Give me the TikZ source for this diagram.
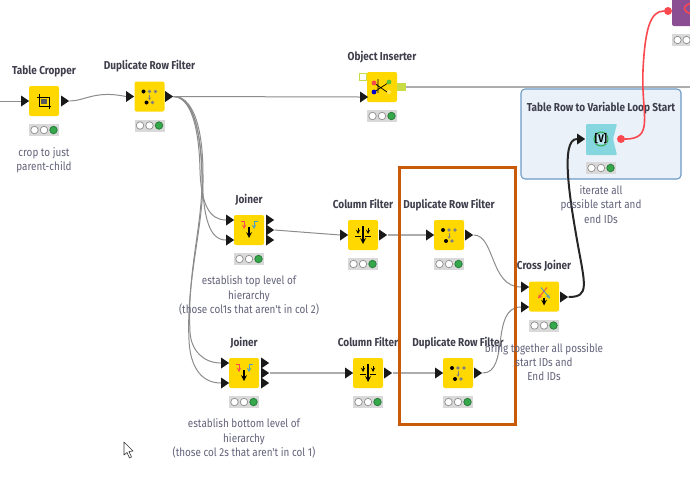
\documentclass[tikz,border=0pt]{standalone}
\usepackage{fontspec}
\setmainfont{Fira Sans}
\newfontfamily\titlefont[FakeStretch=0.87]{Fira Sans}
\newfontfamily\notefont[FakeStretch=0.86]{Fira Sans}
\usetikzlibrary{calc, positioning, shapes.geometric}

\definecolor{knyellow}{HTML}{FFD800}
\definecolor{kngreen}{HTML}{34A84A}
\definecolor{knred}{HTML}{F9484E}
\definecolor{knorange}{HTML}{C85A08}
\definecolor{knlime}{HTML}{C8DC46}
\definecolor{kntitle}{HTML}{3E3E4C}
\definecolor{knnote}{HTML}{62627A}
\definecolor{knbox}{HTML}{EAF1F8}
\definecolor{knboxline}{HTML}{6C9BC8}
\definecolor{knteal}{HTML}{85D6DF}
\definecolor{knpurple}{HTML}{8B4E92}
\definecolor{knblue}{HTML}{4F9BC8}

\tikzset{
	icon/.style = {fill = knyellow, rounded corners = 2pt, minimum size = 30pt, inner sep = 0},
	nodetitle/.style = {font = \titlefont\bfseries\fontsize{11.5}{13}\selectfont, text = kntitle, text height = 8pt, text depth = 2pt, inner sep = 0},
	note/.style = {font = \notefont\fontsize{11.5}{14.4}\selectfont, text = knnote, align = center, inner sep = 0},
	traffic/.style = {fill = black!15, minimum width = 30pt, minimum height = 12pt, inner sep = 0},
	lamp/.style = {circle, draw = black!45, fill = white, line width = .7pt, minimum size = 7.5pt, inner sep = 0},
	port/.style = {isosceles triangle, isosceles triangle stretches, fill = black!90, minimum width = 11pt, minimum height = 8pt, inner sep = 0},
	wire/.style = {draw = black!45, line width = 1pt},
	flatwire/.style = {draw = black!32, line width = 1.3pt},
	glyph/.style = {-stealth, line width = 1pt}
}

\newcommand{\knimenode}[4]{
	\node [icon] (#1) at (#2,#3) {};
	\node [nodetitle] (#1title) at (#2,#3 - 30) {#4};
	\node [traffic] (#1status) at (#2,#3 + 29) {};
	\node [lamp] at ($(#1status) + (-9.5,0)$) {};
	\node [lamp] at (#1status) {};
	\node [lamp, fill = kngreen, draw = kngreen!70!black] at ($(#1status) + (9.5,0)$) {};
}

\newcommand{\dupglyph}[2]{
	\begin{scope}[shift = {(#1,#2)}]
		\fill (-6,-5) circle (2pt) (-3,6) circle (2pt);
		\fill [black!50] (0,-5) circle (1.8pt) (6,-5) circle (1.8pt) (3,6) circle (1.8pt);
		\draw [black!50, -stealth] (0,-2) -- (0,4);
	\end{scope}
}

\newcommand{\colglyph}[2]{
	\begin{scope}[shift = {(#1,#2)}]
		\draw [-stealth, line width = 1.6pt] (0,-9) -- (0,9);
		\foreach \dx in {-5,5} {
			\draw [-stealth, line width = .9pt] (\dx,-7) -- (\dx,-1);
			\draw [line width = .9pt] (\dx - 3,1) -- (\dx + 3,1);
		}
	\end{scope}
}

\newcommand{\joinglyph}[2]{
	\begin{scope}[shift = {(#1,#2)}]
		\draw [knred, -stealth, line width = .9pt] (-8,-9) -- (-5,-9) -- (-5,-1);
		\draw [knblue, -stealth, line width = .9pt] (9,-9) -- (5,-9) -- (5,-1);
		\draw [-stealth, line width = 1.5pt] (0,-3) -- (0,8);
	\end{scope}
}

\begin{document}
\begin{tikzpicture}[x = 1pt, y = -1pt]
	\useasboundingbox (0,0) rectangle (690,496);
	\clip (0,0) rectangle (690,496);

	% loop start box
	\filldraw [draw = knboxline, fill = knbox, line width = 1.1pt, rounded corners = 4pt] (521,89) rectangle (681,179);

	% nodes
	\knimenode{crop}{44}{101}{Table Cropper}
	\knimenode{dupA}{149.5}{96.5}{Duplicate Row Filter}
	\knimenode{joinA}{249}{230}{Joiner}
	\knimenode{joinB}{244}{373}{Joiner}
	\knimenode{colA}{363}{235}{Column Filter}
	\knimenode{colB}{368}{373}{Column Filter}
	\knimenode{dupB}{449}{235}{Duplicate Row Filter}
	\knimenode{dupC}{458}{373}{Duplicate Row Filter}
	\knimenode{cross}{544}{296.5}{Cross Joiner}
	\knimenode{objins}{382}{87}{Object Inserter}

	% loop start has its own shape
	\fill [knteal, rounded corners = 1pt] (586,124) -- (617,124) -- (613,139) -- (617,155) -- (586,155) -- cycle;
	\node [nodetitle] (looptitle) at (601,108.5) {Table Row to Variable Loop Start};
	\node [traffic] (loopstatus) at (601,168) {};
	\node [lamp] at (591.5,168) {};
	\node [lamp] at (601,168) {};
	\node [lamp, fill = kngreen, draw = kngreen!70!black] at (610.5,168) {};
	\draw [kngreen, line width = 1pt] (601,139) circle (7pt);
	\node [font = \titlefont\bfseries\fontsize{11}{11}\selectfont, inner sep = 0, fill = knteal!60!white] (loopglyph) at (601,139) {[V]};

	% top right node, cut by the edge
	\fill [knpurple, rounded corners = 2pt] (672,-5) rectangle (700,26);
	\draw [knred, line width = 1.5pt] (692,3) .. controls (682,5) and (682,12) .. (692,14);
	\fill [black!15] (672,34) rectangle (700,46);
	\draw [black!45, fill = white, line width = .7pt] (677.5,40) circle (3.7pt) (686.5,40) circle (3.7pt);

	% glyphs
	\dupglyph{149.5}{96.5}
	\dupglyph{449}{235}
	\dupglyph{458}{373}
	\colglyph{363}{235}
	\colglyph{368}{373}
	\joinglyph{249}{230}
	\joinglyph{244}{373}

	\begin{scope}[shift = {(44,101)}]
		\draw [line width = .8pt] (-7,-4) -- (5,-4) -- (5,8) (-5,-7) -- (-5,5) -- (7,5);
		\fill [black!65] (-3,-2) rectangle (3,3);
	\end{scope}

	\begin{scope}[shift = {(544,296.5)}]
		\draw [knred, -stealth, line width = .9pt] (3,-9) -- (-6,2);
		\draw [knblue, -stealth, line width = .9pt] (-3,-9) -- (6,2);
		\draw [-stealth, line width = 1.5pt] (0,1) -- (0,9);
	\end{scope}

	\begin{scope}[shift = {(382,87)}]
		\draw [line width = .7pt] (-8,-4) -- (5,5) (-4,-8) -- (-4,6) (-8,5) -- (6,-4);
		\fill [knred] (-8,-4) circle (2.4pt);
		\fill [kngreen!70!lime] (7,-5) circle (2.4pt);
		\fill [blue!80!black] (-8,5) circle (2.4pt);
		\fill [knyellow!60!white] (7,5) circle (2pt);
	\end{scope}

	% ports
	\coordinate (leftend) at (0,101);
	\coordinate (rightend) at (690,87);
	\node [port] (cropin) at (24,101) {};
	\node [port] (cropout) at (64,101) {};
	\node [port] (dupAin) at (129,96.5) {};
	\node [port] (dupAout) at (168,96.5) {};
	\node [port] (objinsin) at (363,97) {};
	\node [port] (joinAinA) at (229,220) {};
	\node [port] (joinAinB) at (229,240) {};
	\node [port] (joinAoutA) at (269,220) {};
	\node [port] (joinAoutB) at (269,230) {};
	\node [port] (joinAoutC) at (269,240) {};
	\node [port] (joinBinA) at (224,363) {};
	\node [port] (joinBinB) at (224,383) {};
	\node [port] (joinBoutA) at (264,363) {};
	\node [port] (joinBoutB) at (264,373) {};
	\node [port] (joinBoutC) at (264,383) {};
	\node [port] (colAin) at (343,235) {};
	\node [port] (colAout) at (382,235) {};
	\node [port] (colBin) at (348,373) {};
	\node [port] (colBout) at (387,373) {};
	\node [port] (dupBin) at (429,235) {};
	\node [port] (dupBout) at (468,235) {};
	\node [port] (dupCin) at (438,373) {};
	\node [port] (dupCout) at (477,373) {};
	\node [port] (crossinA) at (524,287) {};
	\node [port] (crossinB) at (524,307) {};
	\node [port] (crossout) at (563,297) {};
	\node [port] (loopin) at (580,139) {};
	\node [circle, fill = knred, minimum size = 8pt, inner sep = 0] (loopout) at (621,139) {};
	\node [circle, fill = knred, minimum size = 8pt, inner sep = 0] (endin) at (668,11) {};
	\draw [draw = knlime, fill = white, line width = 1pt] (359,73.5) rectangle (366,80.5);
	\node [fill = knlime, minimum width = 9pt, minimum height = 8pt, inner sep = 0] (objinsout) at (401.5,87) {};

	% connectors
	\draw [wire] (leftend) -- (cropin.west);
	\draw [wire] (cropout.east) .. controls (85,101) and (95,90) .. (dupAin.west);
	\draw [wire] (dupAout.east) -- (objinsin.west);
	\draw [flatwire] (objinsout.east) -- (rightend);
	\draw [wire] (dupAout.east) .. controls (190,97) and (199,125) .. (200,170) .. controls (201,205) and (210,220) .. (joinAinA.west);
	\draw [wire] (dupAout.east) .. controls (190,97) and (201,125) .. (202,172) .. controls (203,220) and (210,240) .. (joinAinB.west);
	\draw [wire] (dupAout.east) .. controls (190,96) and (200,120) .. (202,175) .. controls (203,225) and (187,270) .. (190,332) .. controls (191,350) and (203,363) .. (joinBinA.west);
	\draw [wire] (dupAout.east) .. controls (190,96) and (203,120) .. (203,175) .. controls (204,225) and (186,280) .. (189,340) .. controls (190,365) and (200,383) .. (joinBinB.west);
	\draw [wire] (joinAoutB.east) -- (colAin.west);
	\draw [flatwire] (joinBoutB.east) -- (colBin.west);
	\draw [flatwire] (colAout.east) -- (dupBin.west);
	\draw [flatwire] (colBout.east) -- (dupCin.west);
	\draw [wire] (dupBout.east) .. controls (495,235) and (490,287) .. (crossinA.west);
	\draw [wire] (dupCout.east) .. controls (510,373) and (490,307) .. (crossinB.west);
	\draw [black!85, line width = 2pt] (crossout.east) .. controls (590,297) and (585,285) .. (577,240) .. controls (570,200) and (560,139) .. (loopin.west);
	\draw [knred, line width = 1.6pt] (loopout) .. controls (655,139) and (641,115) .. (643,70) .. controls (645,30) and (650,11) .. (endin);

	% highlight
	\draw [knorange, line width = 3pt] (399,167) rectangle (515,424);

	% annotations
	\node [note] (cropnote) at (44,160) {crop to just\\parent-child};
	\node [note] (loopnote) at (601,204.5) {iterate all\\possible start and\\end IDs};
	\node [note] (joinAnote) at (249,295.5) {establish top level of\\hierarchy\\(those col1s that aren't in col 2)};
	\node [note] (joinBnote) at (244,438.5) {establish bottom level of\\hierarchy\\(those col 2s that aren't in col 1)};
	\node [note] (crossnote) at (544,362) {bring together all possible\\start IDs and\\End IDs};

	% mouse pointer
	\draw [black!80, fill = white, line width = .6pt, line join = round] (124,442) -- (124,455) -- (127,452.5) -- (129.5,458) -- (131.5,457) -- (129,451.5) -- (133,451) -- cycle;
\end{tikzpicture}
\end{document}
